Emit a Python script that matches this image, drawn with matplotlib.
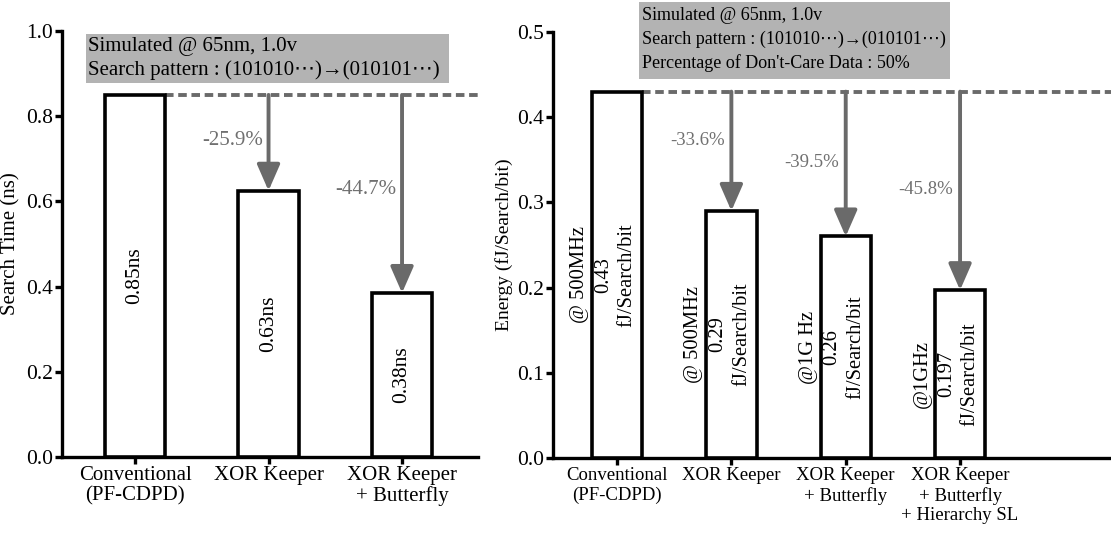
import numpy as np
import matplotlib
matplotlib.use("Agg")
import matplotlib.pyplot as plt
from matplotlib.patches import Rectangle

plt.rcParams['font.family'] = ['Liberation Serif', 'DejaVu Sans']

#------------------------------------------------------------
# Donnees
#------------------------------------------------------------
cat_time = ["Conventional\n(PF-CDPD)", "XOR Keeper", "XOR Keeper\n+ Butterfly"]
search_time = [0.85, 0.625, 0.385]
time_labels = ["0.85ns", "0.63ns", "0.38ns"]
time_pct = ["-25.9%", "-44.7%"]
time_pct_y = [0.744, 0.627]

cat_energy = ["Conventional\n(PF-CDPD)", "XOR Keeper", "XOR Keeper\n+ Butterfly",
              "XOR Keeper\n+ Butterfly\n+ Hierarchy SL"]
energy = [0.43, 0.29, 0.26, 0.197]
energy_labels = ["@ 500MHz\n0.43\nfJ/Search/bit", "@ 500MHz\n0.29\nfJ/Search/bit",
                 "@1G Hz\n0.26\nfJ/Search/bit", "@1GHz\n0.197\nfJ/Search/bit"]
energy_pct = ["-33.6%", "-39.5%", "-45.8%"]
energy_pct_y = [0.373, 0.347, 0.315]

W, H = 1111, 543
fig = plt.figure(figsize=(W/100, H/100), dpi=100)

grey_box = "#b3b3b3"
grey_line = "#6a6a6a"
grey_txt = "#707070"

def px(x0, y0, x1, y1):
    # pixels (haut-gauche) -> fraction de figure
    return [x0/W, 1-y1/H, (x1-x0)/W, (y1-y0)/H]

def style(ax, ylim, yticks, xsize):
    for s in ["top", "right"]:
        ax.spines[s].set_visible(False)
    for s in ["left", "bottom"]:
        ax.spines[s].set_linewidth(2.4)
    ax.set_ylim(*ylim)
    ax.set_yticks(yticks)
    ax.set_yticklabels(["%.1f" % t for t in yticks])
    ax.tick_params(width=2.4, length=5, labelsize=15.5, pad=1.5)
    ax.tick_params(axis="x", labelsize=xsize)

def arrows(ax, top, vals, xs, pcts, pct_ys, dx, size):
    for x, v, p, py in zip(xs, vals, pcts, pct_ys):
        ax.annotate("", xy=(x, v), xytext=(x, top),
                    arrowprops=dict(arrowstyle="-|>,head_width=0.7,head_length=1.6",
                                    color=grey_line, lw=2.8, shrinkA=0, shrinkB=0))
        ax.text(x - dx, py, p, color=grey_txt, fontsize=size, ha="center", va="center")

#------------------------------------------------------------
# Graphe gauche : temps de recherche
#------------------------------------------------------------
ax1 = fig.add_axes(px(62, 31, 478, 457))
x1 = np.arange(len(search_time))
ax1.bar(x1, search_time, width=0.45, facecolor="white", edgecolor="black", linewidth=2.6, zorder=3)
ax1.set_xlim(-0.547, 2.569)
style(ax1, (0, 1.0), [0.0, 0.2, 0.4, 0.6, 0.8, 1.0], 15)
ax1.set_xticks(x1)
ax1.set_xticklabels(cat_time, linespacing=1.1)
ax1.set_ylabel("Search Time (ns)", fontsize=15, labelpad=4)
ax1.plot([0.225, 2.569], [search_time[0]]*2, color=grey_line, lw=2.8, ls=(0, (2.2, 1.2)), zorder=2)
arrows(ax1, search_time[0], search_time[1:], x1[1:], time_pct, time_pct_y, 0.27, 15)
for x, t, v in zip(x1, time_labels, search_time):
    ax1.text(x, v/2, t, rotation=90, ha="center", va="center", fontsize=15.5, zorder=4)

fig.patches.append(Rectangle((86/W, 1-83/H), (449-86)/W, (83-34)/H, transform=fig.transFigure,
                             facecolor=grey_box, edgecolor="none", zorder=5))
fig.text(88/W, 1-47/H, "Simulated @ 65nm, 1.0v", fontsize=15, va="center", zorder=6)
fig.text(88/W, 1-70/H, "Search pattern : (101010\u22ef)\u2192(010101\u22ef)", fontsize=15, va="center", zorder=6)

#------------------------------------------------------------
# Graphe droit : energie
#------------------------------------------------------------
ax2 = fig.add_axes(px(553, 32, 1111, 458))
x2 = np.arange(len(energy))
ax2.bar(x2, energy, width=0.44, facecolor="white", edgecolor="black", linewidth=2.6, zorder=3)
ax2.set_xlim(-0.56, 4.32)
style(ax2, (0, 0.5), [0.0, 0.1, 0.2, 0.3, 0.4, 0.5], 13.5)
ax2.set_xticks(x2)
ax2.set_xticklabels(cat_energy, linespacing=1.2)
ax2.set_ylabel("Energy (fJ/Search/bit)", fontsize=14, labelpad=3)
ax2.plot([0.22, 4.32], [energy[0]]*2, color=grey_line, lw=2.8, ls=(0, (2.2, 1.2)), zorder=2, clip_on=False)
arrows(ax2, energy[0], energy[1:], x2[1:], energy_pct, energy_pct_y, 0.3, 13.5)
for x, t, v in zip(x2, energy_labels, energy):
    ax2.text(x - 0.12, v/2, t, rotation=90, ha="center", va="center", fontsize=14.8,
             multialignment="center", linespacing=1.35, zorder=4)

fig.patches.append(Rectangle((639/W, 1-79/H), (950-639)/W, (79-2)/H, transform=fig.transFigure,
                             facecolor=grey_box, edgecolor="none", zorder=5))
fig.text(642/W, 1-15/H, "Simulated @ 65nm, 1.0v", fontsize=13, va="center", zorder=6)
fig.text(642/W, 1-39/H, "Search pattern : (101010\u22ef)\u2192(010101\u22ef)", fontsize=13, va="center", zorder=6)
fig.text(642/W, 1-63/H, "Percentage of Don't-Care Data : 50%", fontsize=13, va="center", zorder=6)

fig.savefig("out.png", dpi=100)
